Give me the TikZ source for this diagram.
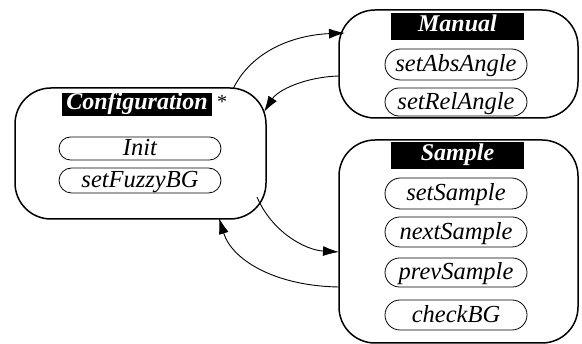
\documentclass[tikz,border=0pt]{standalone}
\usepackage{fontspec}
\setmainfont{Liberation Serif}
\newfontfamily\tmsfont{Liberation Serif}
\usetikzlibrary{arrows.meta,shapes.misc}
\begin{document}
\begin{tikzpicture}[x=1pt,y=-1pt,
  statebox/.style={draw,line width=1.5pt,rounded corners=36pt,inner sep=0pt},
  titlebox/.style={fill=black,text=white,inner sep=0pt,text height=17pt,text depth=6pt,font=\tmsfont\fontsize{24}{26}\selectfont\bfseries\itshape},
  pill/.style={draw,line width=0.8pt,rounded rectangle,inner sep=0pt,text height=0pt,text depth=0pt,minimum width=142pt,font=\tmsfont\fontsize{24.5}{26}\selectfont\itshape},
  conn/.style={line width=0.9pt,-{Latex[length=16pt,width=10pt]}}]
\useasboundingbox (0,0) rectangle (582,344);
% Configuration
\node[statebox,minimum width=251pt,minimum height=131pt] (cfg) at (140.5,153.5) {};
\node[titlebox,minimum width=150pt] (cfgt) at (137,104.5) {Configuration};
\node[font=\tmsfont\fontsize{20}{24}\selectfont,anchor=west,inner sep=0pt] (star) at (217,102) {*};
\node[pill,minimum width=162pt,minimum height=23pt] (init) at (140,148.5) {\raisebox{-7.5pt}{Init}};
\node[pill,minimum width=162pt,minimum height=25pt] (fuzzy) at (140,180.5) {\raisebox{-7.5pt}{setFuzzyBG}};
% Manual
\node[statebox,minimum width=239pt,minimum height=108pt] (man) at (458.5,64) {};
\node[titlebox,minimum width=133pt,text height=19pt,text depth=8pt] (mant) at (457.5,26.5) {Manual};
\node[pill,minimum height=31pt] (abs) at (456,64.5) {\raisebox{-7.5pt}{setAbsAngle}};
\node[pill,minimum height=28pt] (rel) at (456,102) {\raisebox{-7.5pt}{setRelAngle}};
% Sample
\node[statebox,minimum width=239pt,minimum height=203pt] (smp) at (458.5,241.5) {};
\node[titlebox,minimum width=133pt,text height=19pt,text depth=8pt] (smpt) at (457.5,155.5) {Sample};
\node[pill,minimum height=31pt] (sets) at (456,193.5) {\raisebox{-7.5pt}{setSample}};
\node[pill,minimum height=30pt] (nexts) at (456,232) {\raisebox{-7.5pt}{nextSample}};
\node[pill,minimum height=29pt] (prevs) at (456,272.5) {\raisebox{-7.5pt}{prevSample}};
\node[pill,minimum height=30pt] (chk) at (456,315) {\raisebox{-7.5pt}{checkBG}};
% connector end points on the borders
\coordinate (c1s) at (233,89);
\coordinate (c1e) at (345,33);
\coordinate (c2s) at (339,76);
\coordinate (c2e) at (264,112);
\coordinate (c3s) at (257,197);
\coordinate (c3e) at (339,252);
\coordinate (c4s) at (339,287);
\coordinate (c4e) at (219,218);
\draw[conn] (c1s) .. controls (252,50) and (295,35) .. (c1e);
\draw[conn] (c2s) .. controls (305,77) and (278,90) .. (c2e);
\draw[conn] (c3s) .. controls (272,232) and (305,250) .. (c3e);
\draw[conn] (c4s) .. controls (275,286) and (232,260) .. (c4e);
\end{tikzpicture}
\end{document}
